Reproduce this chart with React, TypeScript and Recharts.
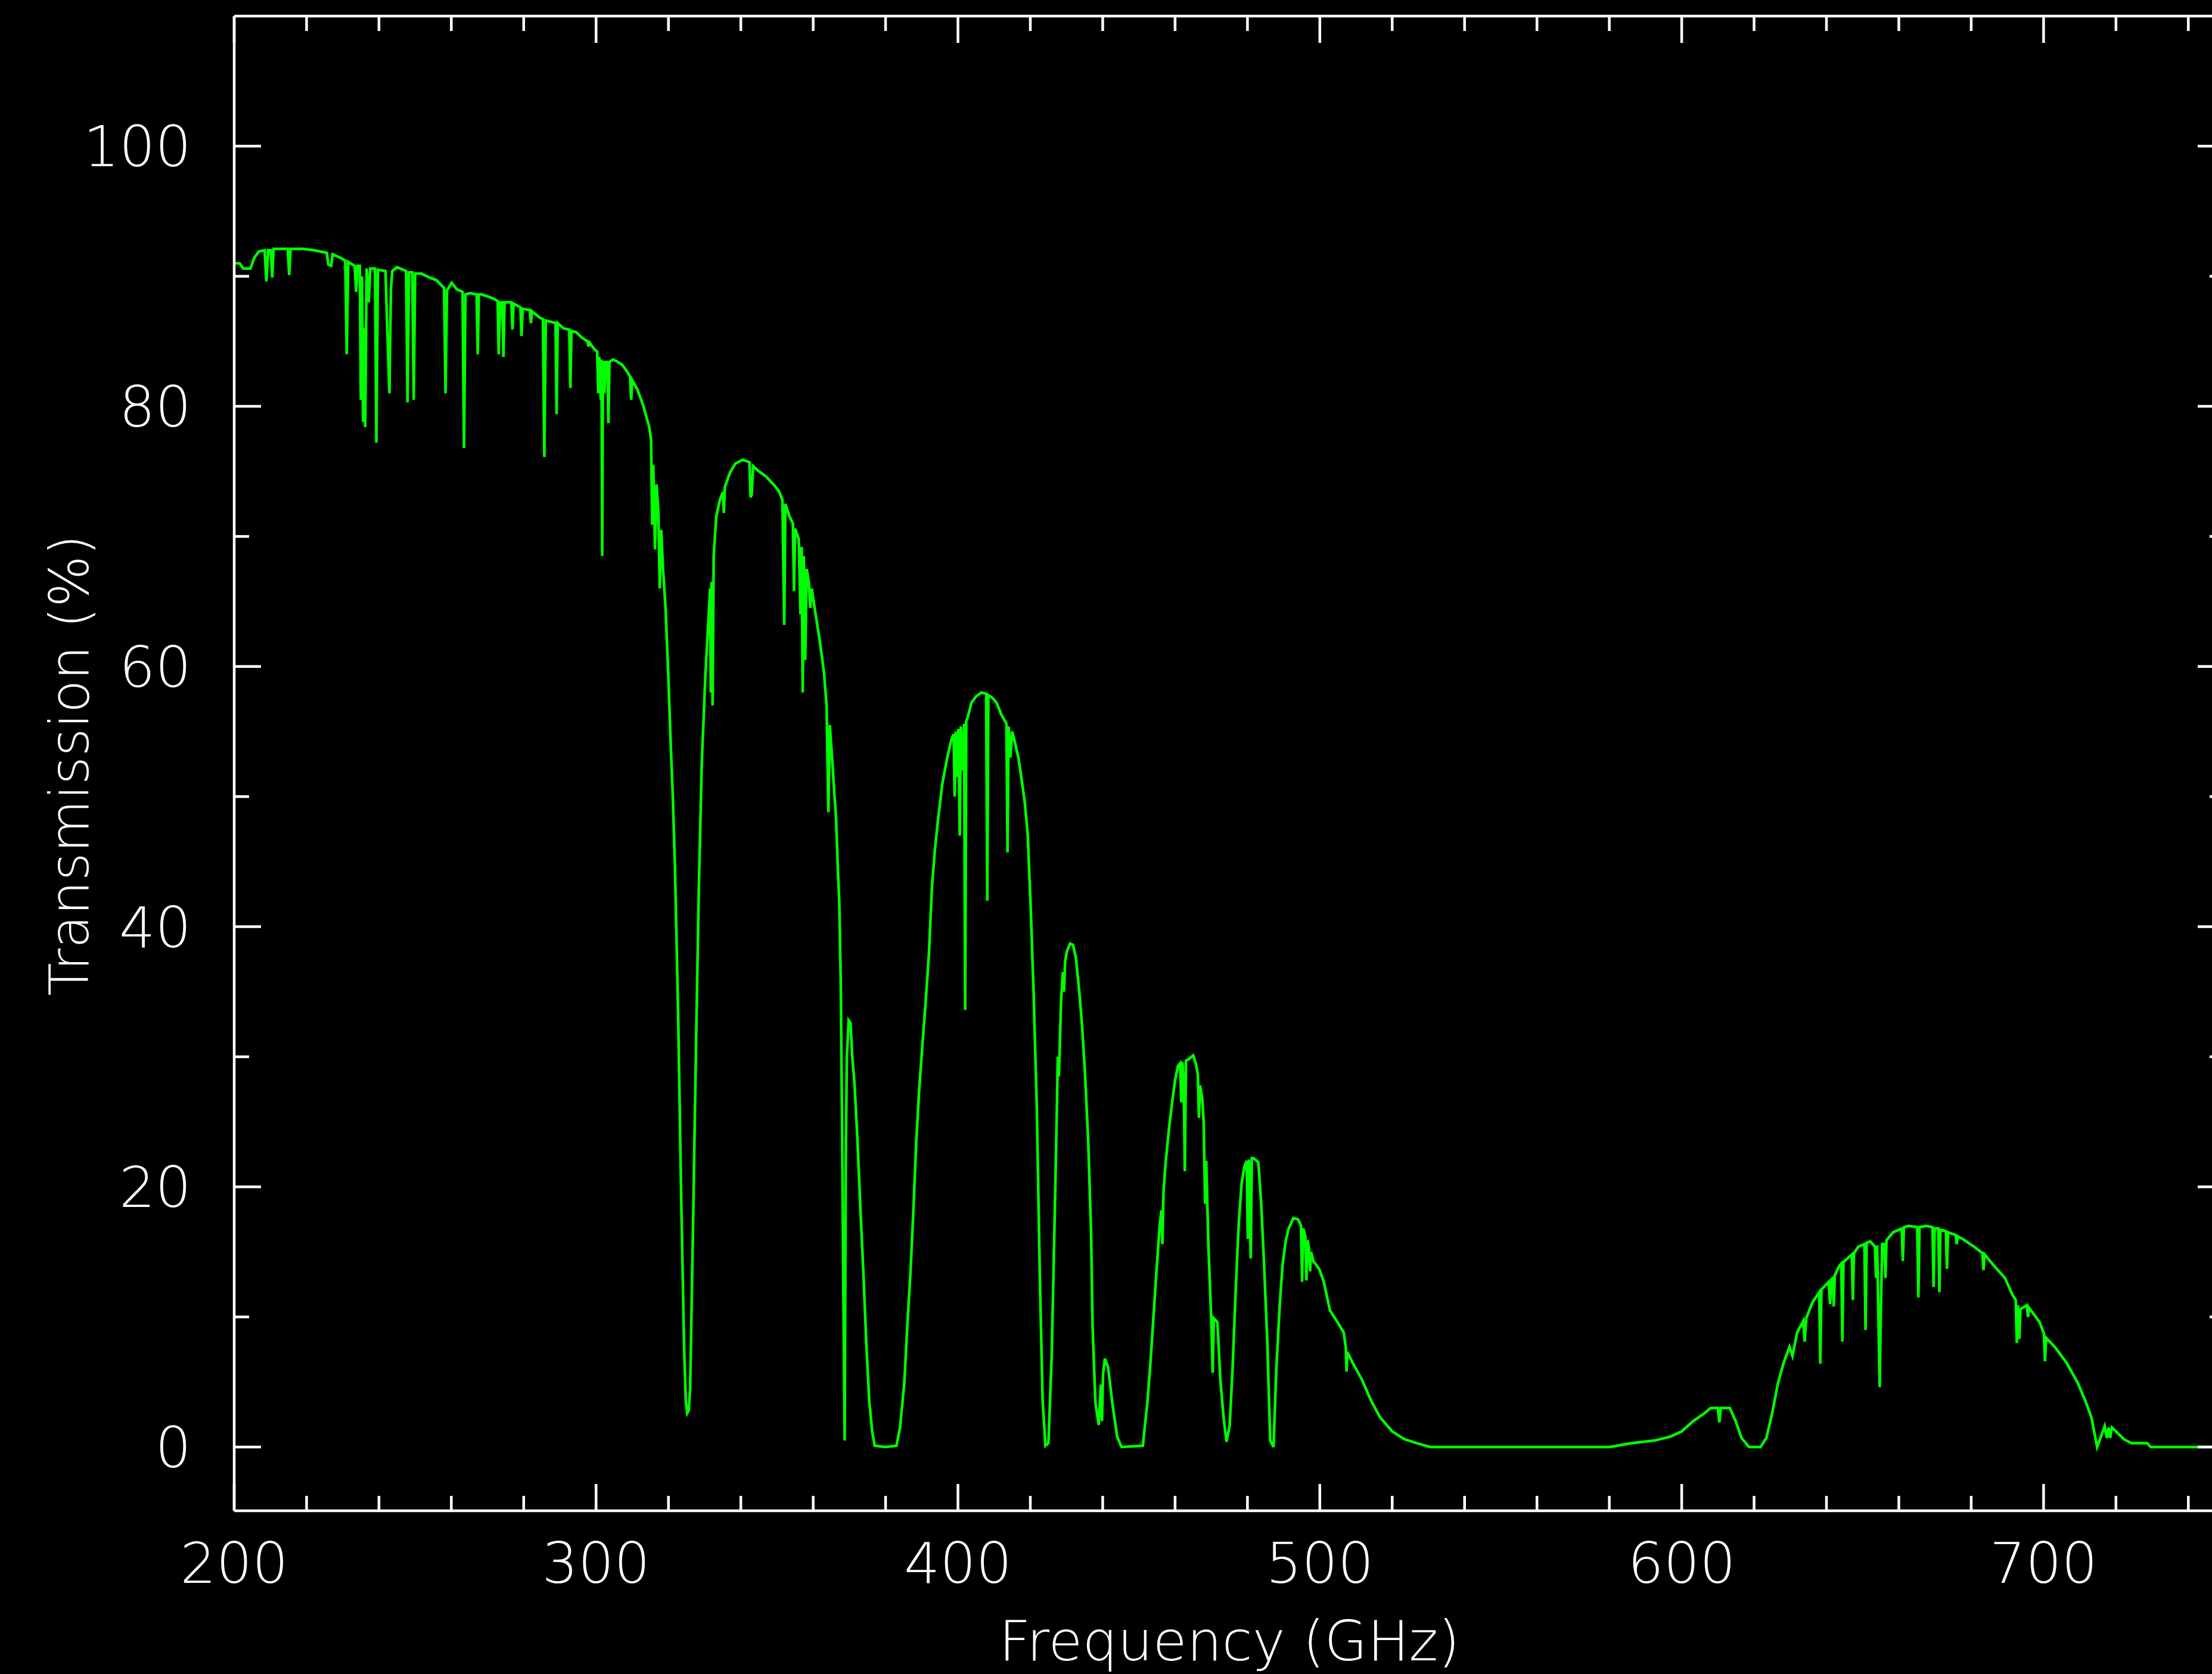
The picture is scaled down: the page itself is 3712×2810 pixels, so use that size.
import React from 'react';
import { LineChart, Line, XAxis, YAxis } from 'recharts';

// ---- Data (frequency in GHz, transmission in %) ----
// Band 1: 200 - 325 GHz
const band1Freq = [
  200.0, 201.5, 202.5, 204.5, 205.5, 206.8, 208.4, 208.9, 209.4, 210.1, 210.5, 210.9, 214.8, 215.2, 215.6,
  219.0, 222.0, 225.6, 226.0, 226.8, 227.2, 229.5, 230.7, 231.1, 231.5, 233.3, 233.7, 234.1, 234.7, 235.0,
  235.3, 235.6, 235.9, 236.2, 236.6, 237.2, 237.6, 238.9, 239.3, 239.7, 241.8, 242.3, 242.9, 243.3, 243.7,
  245.0, 247.5, 247.9, 248.3, 249.2, 249.6, 250.0, 251.7, 254.0, 255.9, 258.0, 258.4, 258.8, 260.1, 261.5,
  263.1, 263.5, 263.9, 265.2, 267.0, 267.3, 267.6, 268.5, 271.5, 272.8, 273.1, 273.5, 274.1, 274.4, 274.7,
  276.6, 276.9, 277.2, 279.1, 279.4, 279.7, 281.7, 282.0, 282.3, 284.5, 285.3, 285.7, 286.1, 287.5, 288.8,
  289.1, 289.4, 291.0, 292.6, 292.9, 293.2, 294.5, 296.0, 297.6, 297.9, 298.2, 299.5, 300.3, 300.6, 300.9,
  301.3, 301.5, 301.7, 301.9, 302.3, 302.6, 303.1, 303.4, 303.7, 304.6, 305.5, 307.2, 308.5, 309.4, 309.7,
  310.0, 311.4, 313.0, 314.7, 315.2, 315.5, 315.8, 316.3, 316.7, 317.2, 317.6, 318.0, 318.5, 319.2, 320.0,
  320.5, 321.2, 321.8, 322.7, 323.5, 324.3, 324.8, 325.2,
];
const band1Trans = [
  91.0, 91.0, 90.6, 90.6, 91.4, 91.9, 92.0, 89.6, 92.0, 92.0, 89.9, 92.1, 92.1, 90.1, 92.1,
  92.1, 92.0, 91.8, 90.9, 90.8, 91.7, 91.4, 91.2, 84.0, 91.1, 90.8, 88.8, 90.8, 90.8, 80.5,
  90.0, 78.8, 86.0, 78.4, 90.6, 88.0, 90.6, 90.6, 77.2, 90.5, 90.4, 86.0, 81.0, 89.0, 90.4,
  90.7, 90.4, 80.3, 90.3, 90.3, 80.5, 90.2, 90.2, 89.9, 89.7, 89.1, 81.0, 88.9, 89.5, 89.0,
  88.8, 76.8, 88.6, 88.7, 88.6, 84.0, 88.6, 88.6, 88.3, 88.1, 84.0, 88.0, 88.0, 83.8, 88.0,
  88.0, 85.9, 87.9, 87.6, 85.4, 87.5, 87.4, 86.4, 87.3, 86.8, 86.7, 76.1, 86.6, 86.5, 86.4,
  79.4, 86.4, 86.0, 85.9, 81.4, 85.8, 85.7, 85.3, 85.0, 84.6, 84.9, 84.4, 84.2, 81.0, 83.8,
  80.5, 83.6, 68.5, 83.5, 81.0, 83.4, 83.4, 78.7, 83.4, 83.6, 83.5, 83.2, 82.7, 82.3, 80.5,
  82.0, 81.3, 80.1, 78.4, 77.4, 70.9, 75.5, 69.0, 74.0, 72.0, 66.0, 70.5, 67.5, 64.5, 59.0,
  55.0, 50.0, 44.6, 33.0, 19.5, 8.0, 3.5, 2.6,
];

// Band 2: 325 - 380 GHz
const band2Freq = [
  325.6, 326.0, 326.8, 327.6, 328.4, 329.2, 330.2, 331.1, 331.5, 331.7, 331.9, 332.2, 332.5, 333.2, 334.2,
  335.0, 335.3, 335.6, 337.0, 338.5, 340.5, 342.4, 342.7, 343.0, 343.4, 345.0, 347.0, 349.0, 350.5, 351.5,
  352.0, 352.3, 353.5, 354.4, 354.7, 355.0, 356.0, 356.5, 356.8, 357.1, 357.4, 357.8, 358.2, 358.8, 359.2,
  359.6, 360.5, 361.8, 363.0, 363.7, 364.2, 364.6, 365.2, 365.9, 366.3, 366.8, 367.2, 367.6, 368.0, 368.4,
  368.7, 369.0, 369.3, 369.8, 370.3, 370.8, 371.4, 372.2, 373.0, 373.9, 374.7, 375.5, 376.3, 377.0, 380.0,
];
const band2Trans = [
  2.8, 4.5, 17.0, 30.5, 43.0, 52.5, 59.3, 63.8, 66.0, 58.0, 66.5, 57.0, 68.5, 71.5, 72.8,
  73.4, 71.8, 73.8, 74.9, 75.6, 75.9, 75.7, 73.0, 73.2, 75.4, 75.0, 74.6, 74.0, 73.5, 72.8,
  63.2, 72.5, 71.5, 71.0, 65.8, 70.6, 69.8, 64.0, 69.2, 58.0, 68.5, 60.5, 67.5, 66.5, 64.5,
  66.0, 64.3, 62.0, 59.5, 57.0, 48.8, 55.5, 53.0, 50.0, 48.5, 44.5, 42.0, 36.0, 24.0, 10.0,
  0.5, 22.0, 30.0, 32.8, 32.6, 30.0, 28.0, 23.8, 18.6, 13.2, 7.8, 3.5, 1.2, 0.1, 0.0,
];

// Band 3: 380 - 445 GHz
const band3Freq = [
  383.0, 384.0, 385.2, 386.0, 386.9, 387.7, 388.5, 389.3, 390.2, 391.1, 392.0, 392.8, 393.6, 394.4, 395.7,
  396.9, 398.2, 398.8, 399.1, 399.4, 399.8, 400.1, 400.5, 400.8, 401.4, 401.7, 402.0, 402.3, 402.8, 403.7,
  405.0, 406.5, 407.8, 408.1, 408.4, 409.5, 410.7, 412.0, 413.4, 413.7, 414.0, 414.5, 415.0, 415.8, 416.7,
  417.5, 418.5, 419.3, 420.1, 420.9, 421.8, 422.6, 423.4, 424.2, 425.0, 425.9, 426.8, 427.3, 427.6, 427.9,
  428.5, 429.0, 429.3, 429.6, 430.1, 431.0, 431.8, 432.6, 433.5, 434.3, 435.1, 436.0, 436.8, 437.2, 438.0,
  438.9, 439.5, 439.8, 440.1, 440.6, 441.5, 442.7, 444.0, 445.2,
];
const band3Trans = [
  0.1, 1.5, 5.0, 9.3, 13.5, 18.3, 23.6, 27.5, 31.0, 34.3, 38.0, 43.0, 45.8, 48.0, 51.0,
  52.8, 54.4, 54.8, 50.0, 55.0, 51.5, 55.2, 47.0, 55.4, 52.0, 55.6, 33.6, 55.8, 56.2, 57.2,
  57.7, 58.0, 57.9, 42.0, 57.8, 57.6, 57.2, 56.3, 55.6, 45.7, 55.4, 53.0, 55.0, 54.1, 53.0,
  51.5, 49.5, 47.0, 41.5, 35.0, 26.0, 13.5, 3.5, 0.1, 0.3, 7.0, 18.5, 25.5, 30.0, 28.5,
  34.3, 36.5, 35.0, 37.3, 38.1, 38.7, 38.6, 37.6, 35.1, 32.4, 28.8, 23.5, 16.4, 9.3, 3.4,
  1.7, 4.8, 2.0, 5.6, 6.8, 6.1, 3.3, 0.8, 0.0,
];

// Band 4: 445 - 531 GHz
const band4Freq = [
  451.1, 452.4, 453.2, 454.0, 454.9, 455.7, 456.2, 456.5, 456.8, 457.4, 458.3, 459.1, 460.0, 460.8, 461.4,
  461.7, 462.0, 462.4, 462.7, 463.0, 463.7, 465.0, 465.8, 466.3, 466.6, 466.9, 467.5, 467.9, 468.3, 468.6,
  469.2, 470.0, 470.4, 470.7, 471.7, 472.5, 473.4, 474.2, 475.1, 475.9, 476.8, 477.6, 478.4, 479.2, 479.8,
  480.1, 480.4, 480.9, 481.2, 481.7, 483.0, 483.8, 484.6, 485.5, 486.3, 487.2, 488.0, 488.9, 489.7, 490.6,
  491.4, 492.7, 494.0, 494.8, 495.1, 495.4, 496.0, 496.3, 496.6, 497.0, 497.3, 497.6, 498.2, 499.8, 501.1,
  502.8, 504.9, 506.6, 507.2, 507.4, 507.6, 509.0, 511.6, 514.1, 516.6, 520.0, 523.4, 526.7, 530.5,
];
const band4Trans = [
  0.1, 3.6, 6.5, 9.9, 13.7, 16.8, 18.2, 15.6, 19.6, 21.9, 24.4, 26.3, 28.2, 29.3, 29.5,
  26.5, 29.6, 28.0, 21.2, 29.7, 29.8, 30.1, 29.4, 28.6, 25.3, 27.8, 26.8, 25.0, 18.7, 22.0,
  15.6, 9.7, 5.7, 9.9, 9.6, 5.2, 2.3, 0.4, 1.7, 6.1, 12.4, 17.2, 20.3, 21.6, 22.0,
  16.0, 22.1, 14.5, 22.2, 22.2, 21.9, 18.7, 14.0, 8.0, 0.5, 0.0, 6.1, 10.8, 14.0, 15.9,
  16.8, 17.6, 17.5, 17.0, 12.7, 16.8, 16.2, 12.8, 15.9, 15.3, 13.5, 15.0, 14.3, 13.7, 12.7,
  10.5, 9.6, 8.8, 7.6, 5.8, 7.3, 6.5, 5.2, 3.6, 2.3, 1.2, 0.6, 0.3, 0.0,
];

// Band 5: 531 - 750 GHz
const band5Freq = [
  580.0, 586.2, 592.5, 596.8, 600.0, 603.2, 606.3, 608.0, 610.0, 610.4, 610.8, 613.3, 614.9, 616.5, 618.6,
  621.8, 623.4, 625.0, 626.6, 628.2, 629.8, 630.6, 631.9, 633.6, 634.0, 634.4, 636.1, 638.0, 638.3, 638.6,
  640.6, 641.0, 641.4, 641.8, 642.0, 642.3, 643.5, 644.1, 644.4, 644.7, 646.2, 647.0, 647.3, 647.6, 648.8,
  650.5, 650.8, 651.1, 652.1, 653.4, 653.7, 654.0, 654.3, 654.7, 655.0, 655.4, 656.0, 656.3, 656.6, 658.4,
  660.8, 661.1, 661.4, 662.7, 665.1, 665.4, 665.7, 667.5, 669.3, 669.6, 669.9, 670.9, 671.2, 671.5, 673.0,
  673.3, 673.6, 675.7, 676.0, 676.3, 677.6, 680.8, 683.1, 683.4, 683.7, 686.1, 689.3, 691.4, 692.3, 692.6,
  692.9, 693.3, 693.6, 695.4, 695.7, 696.0, 698.9, 700.1, 700.4, 700.7, 703.1, 706.3, 709.5, 711.6, 713.2,
  714.8, 716.9, 717.5, 718.0, 718.4, 718.9, 722.2, 724.3, 728.6, 729.6, 750.0,
];
const band5Trans = [
  0.0, 0.3, 0.5, 0.8, 1.2, 2.0, 2.6, 3.0, 3.0, 1.9, 3.0, 3.0, 2.0, 0.7, 0.0,
  0.0, 0.7, 2.6, 4.9, 6.5, 7.7, 7.0, 8.8, 9.7, 8.1, 9.9, 11.1, 11.9, 6.4, 12.1,
  12.7, 11.0, 12.9, 13.0, 10.8, 13.2, 13.9, 14.1, 8.1, 14.2, 14.6, 14.8, 11.3, 14.9, 15.4,
  15.6, 9.0, 15.7, 15.8, 15.4, 13.0, 15.5, 11.0, 4.6, 10.0, 15.6, 15.6, 13.0, 15.9, 16.5,
  16.8, 14.3, 16.9, 17.0, 16.9, 11.5, 16.9, 17.0, 16.9, 12.3, 16.8, 16.8, 11.9, 16.7, 16.6,
  13.7, 16.5, 16.3, 15.6, 16.2, 16.0, 15.4, 14.9, 13.6, 14.8, 14.0, 13.0, 11.7, 11.3, 8.0,
  10.9, 8.3, 10.6, 10.9, 10.0, 10.7, 9.6, 8.7, 6.6, 8.4, 7.7, 6.5, 4.9, 3.5, 2.3,
  0.0, 1.6, 0.7, 1.5, 0.7, 1.5, 0.6, 0.3, 0.3, 0.0, 0.0,
];

// Axis ticks
const xTicks = [200, 220, 240, 260, 280, 300, 320, 340, 360, 380, 400, 420, 440, 460, 480, 500, 520, 540, 560, 580, 600, 620, 640, 660, 680, 700, 720, 740];
const xMajor = [200, 300, 400, 500, 600, 700];
const yTicks = [0, 10, 20, 30, 40, 50, 60, 70, 80, 90, 100];
const yMajor = [0, 20, 40, 60, 80, 100];

const xTitle = 'Frequency (GHz)';
const yTitle = 'Transmission (%)';

const allFreq = [...band1Freq, ...band2Freq, ...band3Freq, ...band4Freq, ...band5Freq];
const allTrans = [...band1Trans, ...band2Trans, ...band3Trans, ...band4Trans, ...band5Trans];
const data = allFreq.map((f, i) => ({ f, t: allTrans[i] }));

const FONT = "'DejaVu Sans', 'Liberation Sans', sans-serif";
const WHITE = '#ffffff';
const MAJOR = 45;
const MINOR = 25;
const AXIS_W = 4.5;

function BottomTick(props: any) {
  const { x, y, payload } = props;
  const major = xMajor.includes(payload.value);
  return (
    <g>
      <line x1={x} y1={y} x2={x} y2={y - (major ? MAJOR : MINOR)} stroke={WHITE} strokeWidth={AXIS_W} />
      {major && (
        <text x={x} y={y + 121} textAnchor="middle" fill={WHITE} fontSize={95} fontFamily={FONT} fontWeight={200}>
          {payload.value}
        </text>
      )}
    </g>
  );
}

function TopTick(props: any) {
  const { x, y, payload } = props;
  const major = xMajor.includes(payload.value);
  return <line x1={x} y1={y} x2={x} y2={y + (major ? MAJOR : MINOR)} stroke={WHITE} strokeWidth={AXIS_W} />;
}

function LeftTick(props: any) {
  const { x, y, payload } = props;
  const major = yMajor.includes(payload.value);
  return (
    <g>
      <line x1={x} y1={y} x2={x + (major ? MAJOR : MINOR)} y2={y} stroke={WHITE} strokeWidth={AXIS_W} />
      {major && (
        <text x={x - 72} y={y + 34} textAnchor="end" fill={WHITE} fontSize={95} fontFamily={FONT} fontWeight={200}>
          {payload.value}
        </text>
      )}
    </g>
  );
}

function RightTick(props: any) {
  const { x, y, payload } = props;
  const major = yMajor.includes(payload.value);
  return <line x1={x} y1={y} x2={x - (major ? MAJOR : MINOR)} y2={y} stroke={WHITE} strokeWidth={AXIS_W} />;
}

function XTitle(props: any) {
  const vb = props.viewBox || { x: 393, y: 2536, width: 3340, height: 274 };
  return (
    <text x={vb.x + vb.width / 2} y={vb.y + 251} textAnchor="middle" fill={WHITE} fontSize={93} fontFamily={FONT} fontWeight={200}>
      {xTitle}
    </text>
  );
}

function YTitle(props: any) {
  const vb = props.viewBox || { x: 0, y: 27, width: 393, height: 2509 };
  const cx = vb.x + 148;
  const cy = vb.y + vb.height / 2 + 3;
  return (
    <text x={cx} y={cy} transform={`rotate(-90 ${cx} ${cy})`} textAnchor="middle" fill={WHITE} fontSize={91} fontFamily={FONT} fontWeight={200}>
      {yTitle}
    </text>
  );
}

export default function App() {
  return (
    <div style={{ position: 'absolute', left: 0, top: 0, width: 3712, height: 2810, overflow: 'hidden', background: '#000000' }}>
      <LineChart width={3760} height={2810} data={data} margin={{ top: 0, right: 0, bottom: 0, left: 0 }}>
        <XAxis
          xAxisId="bottom"
          dataKey="f"
          type="number"
          domain={[200, 750]}
          allowDataOverflow
          ticks={xTicks}
          interval={0}
          height={274}
          tickSize={0}
          tickMargin={0}
          tickLine={false}
          axisLine={{ stroke: WHITE, strokeWidth: AXIS_W }}
          tick={(p: any) => <BottomTick {...p} />}
          label={<XTitle />}
        />
        <XAxis
          xAxisId="top"
          orientation="top"
          dataKey="f"
          type="number"
          domain={[200, 750]}
          allowDataOverflow
          ticks={xTicks}
          interval={0}
          height={27}
          tickSize={0}
          tickMargin={0}
          tickLine={false}
          axisLine={{ stroke: WHITE, strokeWidth: AXIS_W }}
          tick={(p: any) => <TopTick {...p} />}
        />
        <YAxis
          yAxisId="left"
          type="number"
          domain={[-4.9, 110]}
          allowDataOverflow
          ticks={yTicks}
          interval={0}
          width={393}
          tickSize={0}
          tickMargin={0}
          tickLine={false}
          axisLine={{ stroke: WHITE, strokeWidth: AXIS_W }}
          tick={(p: any) => <LeftTick {...p} />}
          label={<YTitle />}
        />
        <YAxis
          yAxisId="right"
          orientation="right"
          type="number"
          domain={[-4.9, 110]}
          allowDataOverflow
          ticks={yTicks}
          interval={0}
          width={27}
          tickSize={0}
          tickMargin={0}
          tickLine={false}
          axisLine={{ stroke: WHITE, strokeWidth: AXIS_W }}
          tick={(p: any) => <RightTick {...p} />}
        />
        <Line
          xAxisId="bottom"
          yAxisId="left"
          type="linear"
          dataKey="t"
          stroke="#00ff00"
          strokeWidth={4.5}
          dot={false}
          activeDot={false}
          isAnimationActive={false}
        />
      </LineChart>
    </div>
  );
}
